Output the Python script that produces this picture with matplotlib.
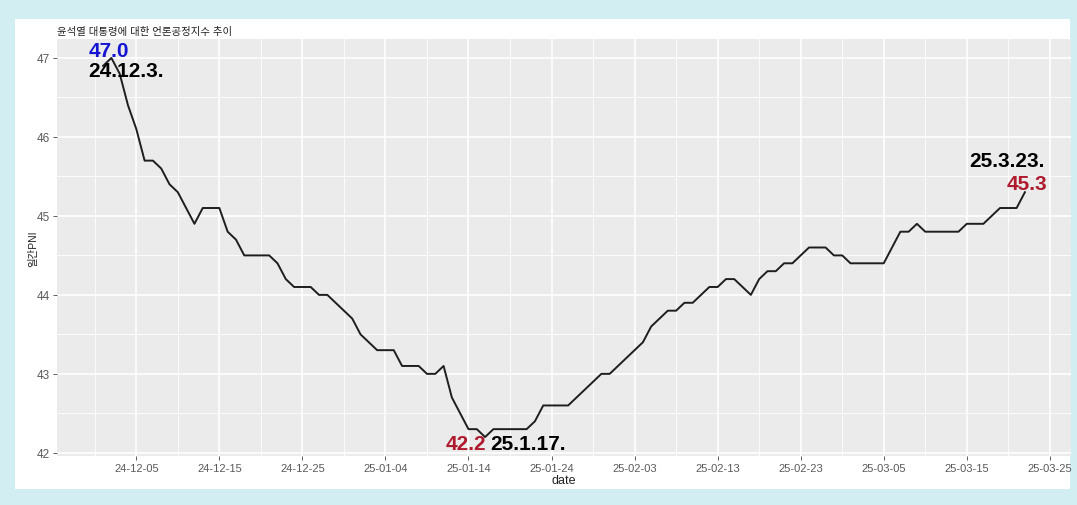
import numpy as np
import pandas as pd
import matplotlib
matplotlib.use('Agg')
import matplotlib.pyplot as plt
import matplotlib.dates as mdates
from matplotlib.patches import Rectangle

plt.rcParams['font.family'] = ['Liberation Sans', 'Noto Sans CJK KR', 'DejaVu Sans']

# daily PNI values, 2024-12-01 .. 2025-03-22
start_date = '2024-12-01'
pni_dec = [46.9, 47.0, 46.8, 46.4, 46.1, 45.7, 45.7, 45.6, 45.4, 45.3, 45.1, 44.9, 45.1, 45.1, 45.1,
           44.8, 44.7, 44.5, 44.5, 44.5, 44.5, 44.4, 44.2, 44.1, 44.1, 44.1, 44.0, 44.0, 43.9, 43.8, 43.7]
pni_jan = [43.5, 43.4, 43.3, 43.3, 43.3, 43.1, 43.1, 43.1, 43.0, 43.0, 43.1, 42.7, 42.5, 42.3, 42.3,
           42.2, 42.3, 42.3, 42.3, 42.3, 42.3, 42.4, 42.6, 42.6, 42.6, 42.6, 42.7, 42.8, 42.9, 43.0, 43.0]
pni_feb = [43.1, 43.2, 43.3, 43.4, 43.6, 43.7, 43.8, 43.8, 43.9, 43.9, 44.0, 44.1, 44.1, 44.2,
           44.2, 44.1, 44.0, 44.2, 44.3, 44.3, 44.4, 44.4, 44.5, 44.6, 44.6, 44.6, 44.5, 44.5]
pni_mar = [44.4, 44.4, 44.4, 44.4, 44.4, 44.6, 44.8, 44.8, 44.9, 44.8, 44.8, 44.8, 44.8, 44.8,
           44.9, 44.9, 44.9, 45.0, 45.1, 45.1, 45.1, 45.3]

title = '윤석열 대통령에 대한 언론공정지수 추이'
ylabel = '일간PNI'
xlabel = 'date'
first_tick = '2024-12-05'
last_tick = '2025-03-25'

values = np.array(pni_dec + pni_jan + pni_feb + pni_mar)
dates = pd.date_range(start_date, periods=len(values), freq='D')

W, H = 1077, 506
fig = plt.figure(figsize=(W / 100, H / 100), dpi=100)
fig.patch.set_facecolor('#d3eef3')
fig.patches.append(Rectangle((15 / W, 1 - 490 / H), (1070 - 15) / W, (490 - 20) / H,
                             transform=fig.transFigure, facecolor='white', edgecolor='none', zorder=-5))

ax = fig.add_axes([57 / W, 49 / H, (1071 - 57) / W, (457 - 40) / H])
ax.set_facecolor('#ebebeb')
for s in ax.spines.values():
    s.set_visible(False)

ax.plot(dates, values, color='#1e1e1e', lw=1.4, zorder=3)

# ggplot-style expanded limits
span = dates[-1] - dates[0]
ax.set_xlim(dates[0] - span * 0.05, dates[-1] + span * 0.05)
yr = values.max() - values.min()
ax.set_ylim(values.min() - yr * 0.05, values.max() + yr * 0.05)

major = pd.date_range(first_tick, last_tick, freq='10D')
minor = major - pd.Timedelta(days=5)
ax.set_xticks(major)
ax.set_xticks(minor, minor=True)
ax.xaxis.set_major_formatter(mdates.DateFormatter('%y-%m-%d'))
ax.set_yticks([42, 43, 44, 45, 46, 47])
ax.set_yticks(np.arange(42.5, 47.5, 1.0), minor=True)

ax.grid(which='major', color='white', lw=1.2)
ax.grid(which='minor', color='white', lw=0.6)
ax.set_axisbelow(True)
ax.tick_params(which='major', length=3, width=0.6, color='#444444', labelcolor='#5a5a5a',
               labelsize=8, pad=2)
ax.tick_params(axis='y', labelsize=8.5)
ax.tick_params(which='minor', length=0)

ax.set_xlabel(xlabel, fontsize=9, color='#222222', labelpad=1)
ax.set_ylabel(ylabel, fontsize=7.5, color='#222222', labelpad=-1)
fig.text(57 / W, 1 - 32 / H, title, fontsize=7.5, color='#222222', va='center', ha='left')

# annotations at peak, minimum and last point
i_max = int(np.argmax(values))
i_min = int(np.argmin(values))
i_end = len(values) - 1
blue = '#1414d2'
red = '#b01a2e'
kw = dict(textcoords='offset pixels', fontsize=15, fontweight='bold', va='center', zorder=5)

ax.annotate(f'{values[i_max]:.1f}', (dates[i_max], values[i_max]), xytext=(-23, 7),
            ha='left', color=blue, **kw)
ax.annotate('24.12.3.', (dates[i_max], values[i_max]), xytext=(-23, -13),
            ha='left', color='black', **kw)
ax.annotate(f'{values[i_min]:.1f}', (dates[i_min], values[i_min]), xytext=(1, -6),
            ha='right', color=red, **kw)
ax.annotate('25.1.17.', (dates[i_min], values[i_min]), xytext=(5, -6),
            ha='left', color='black', **kw)
ax.annotate(f'{values[i_end]:.1f}', (dates[i_end], values[i_end]), xytext=(22, 9),
            ha='right', color=red, **kw)
ax.annotate('25.3.23.', (dates[i_end], values[i_end]), xytext=(20, 32),
            ha='right', color='black', **kw)

fig.savefig('out.png', dpi=100, facecolor=fig.get_facecolor())
